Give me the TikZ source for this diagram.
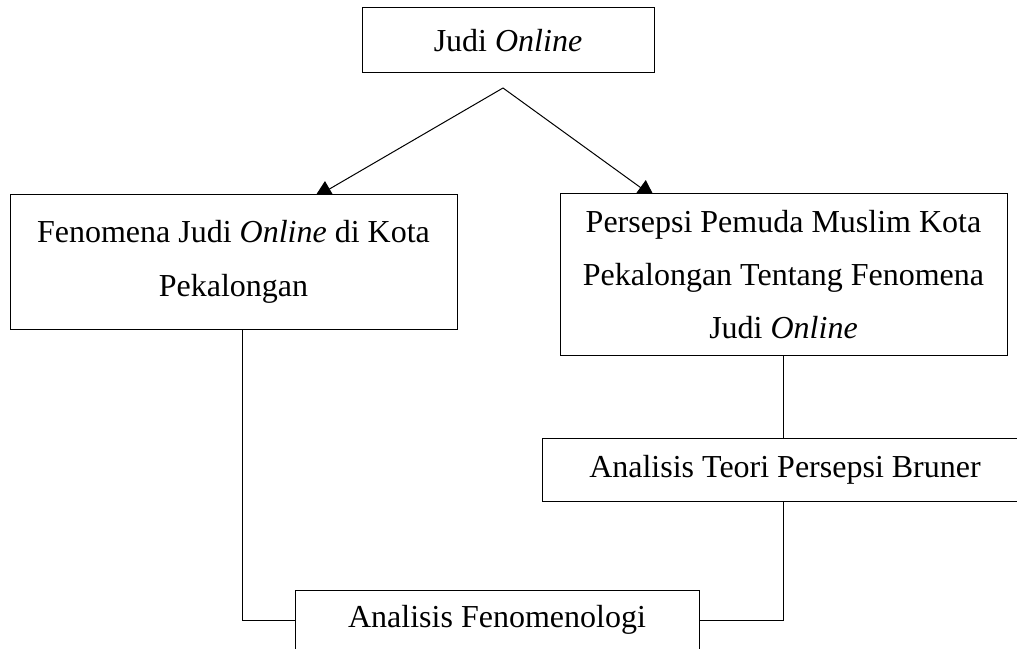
\documentclass[tikz,border=0pt]{standalone}
\usepackage{fontspec}
\setmainfont{Liberation Serif}
\usetikzlibrary{
  arrows.meta,
  backgrounds
}

\begin{document}
\begin{tikzpicture}[
  x=0.75pt, y=-0.75pt,
  box/.style={
    rectangle,
    draw,
    fill=white,
    line width=0.75pt,
    align=center,
    inner sep=0pt,
    font=\fontsize{24}{40}\selectfont
  },
  link/.style={line width=0.75pt},
  arrow-link/.style={link, -{Triangle[length=13.5pt,width=13.5pt]}}
]
\useasboundingbox (0,0) rectangle (1017,649);
\clip (0,0) rectangle (1017,649);

\node [box, minimum width=219pt, minimum height=48.75pt] (judi-online) at (508,40.5) {Judi \textit{Online}};
\node [box, minimum width=335.25pt, minimum height=100.5pt] (fenomena) at (233.5,262) {Fenomena Judi \textit{Online} di Kota\\Pekalongan};
\node [box, minimum width=335.25pt, minimum height=120.75pt] (persepsi) at (783.5,274.5) {Persepsi Pemuda Muslim Kota\\Pekalongan Tentang Fenomena\\Judi \textit{Online}};
\node [box, minimum width=364.5pt, minimum height=47.25pt] (teori-bruner) at (785,469.5) {Analisis Teori Persepsi Bruner};
\node [box, minimum width=303pt, minimum height=45pt] (analisis-fenomenologi) at (497,620) {Analisis Fenomenologi};

\coordinate (split) at (503,88);
\coordinate (tip-left) at (314,198);
\coordinate (tip-right) at (655,198);
\coordinate (drop-left) at (242,0);

\begin{scope}[on background layer]
\draw [arrow-link] (split) -- (tip-left);
\draw [arrow-link] (split) -- (tip-right);
\end{scope}

\draw [link] (persepsi.south) -- (teori-bruner.north -| persepsi.south);
\draw [link] (teori-bruner.south -| persepsi.south) |- (analisis-fenomenologi.east);
\draw [link] (fenomena.south -| drop-left) |- (analisis-fenomenologi.west);

\end{tikzpicture}
\end{document}
